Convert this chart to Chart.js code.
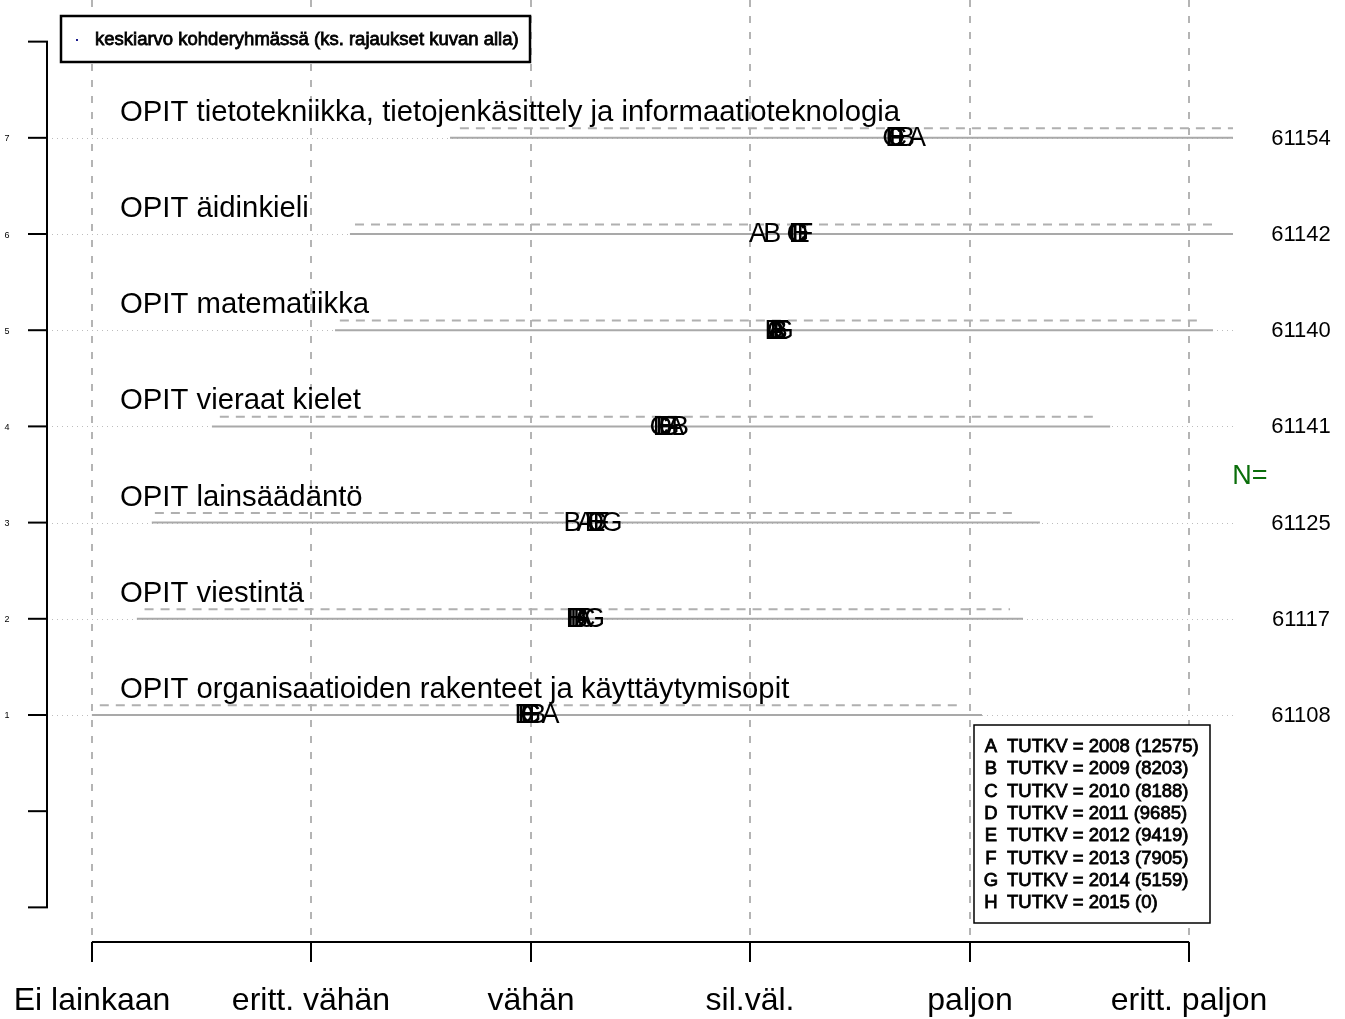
<!DOCTYPE html>
<html>
<head>
<meta charset="utf-8">
<script src="https://cdn.jsdelivr.net/npm/chart.js@4.4.1/dist/chart.umd.min.js"></script>
<style>
html,body{margin:0;padding:0;background:#fff;}
canvas{display:block;}
</style>
</head>
<body>
<canvas id="c" width="1345" height="1019"></canvas>
<script>
// ---- data (row 1 = bottom, row 7 = top) ----
const categories = [
  "OPIT organisaatioiden rakenteet ja käyttäytymisopit",
  "OPIT viestintä",
  "OPIT lainsäädäntö",
  "OPIT vieraat kielet",
  "OPIT matematiikka",
  "OPIT äidinkieli",
  "OPIT tietotekniikka, tietojenkäsittely ja informaatioteknologia"
];
const rowN = [61108, 61117, 61125, 61141, 61140, 61142, 61154];
const groupLetters = ["A","B","C","D","E","F","G"];
const groupLegend = [
  "TUTKV = 2008 (12575)",
  "TUTKV = 2009 (8203)",
  "TUTKV = 2010 (8188)",
  "TUTKV = 2011 (9685)",
  "TUTKV = 2012 (9419)",
  "TUTKV = 2013 (7905)",
  "TUTKV = 2014 (5159)",
  "TUTKV = 2015 (0)"
];
const legendKeys = ["A","B","C","D","E","F","G","H"];
// group means per row (rows 1..7)
const meanA = [3.09, 3.24, 3.25, 3.66, 4.12, 4.035, 4.76];
const meanB = [3.03, 3.22, 3.19, 3.68, 4.13, 4.10, 4.71];
const meanC = [3.00, 3.25, 3.30, 3.585, 4.12, 4.21, 4.67];
const meanD = [2.97, 3.21, 3.29, 3.60, 4.11, 4.22, 4.66];
const meanE = [2.98, 3.20, 3.30, 3.61, 4.13, 4.23, 4.66];
const meanF = [2.99, 3.23, 3.32, 3.62, 4.14, 4.25, 4.67];
const meanG = [3.00, 3.29, 3.37, 3.63, 4.15, 4.22, 4.65];
const groupMeans = [meanA, meanB, meanC, meanD, meanE, meanF, meanG];
// range lines per row
const solidLo = [1.00, 1.205, 1.273, 1.547, 2.108, 2.176, 2.632];
const solidHi = [5.056, 5.243, 5.32, 5.64, 6.109, 6.2, 6.2];
const dashLo  = [1.036, 1.24, 1.287, 1.583, 2.13, 2.199, 2.677];
const dashHi  = [4.947, 5.184, 5.216, 5.571, 6.06, 6.109, 6.2];
const xTickValues = [1, 2, 3, 4, 5, 6];
const xTickLabels = ["Ei lainkaan", "eritt. vähän", "vähän", "sil.väl.", "paljon", "eritt. paljon"];
const yTickValues = [-1, 0, 1, 2, 3, 4, 5, 6, 7, 8];
const yTickLabels = ["", "", "1", "2", "3", "4", "5", "6", "7", ""];
const topLegendText = "keskiarvo kohderyhmässä (ks. rajaukset kuvan alla)";

const FONT = '"Liberation Sans", Arial, sans-serif';
const DASH_OFF = 0.1;

const datasets = [];
for (let i = 0; i < categories.length; i++) {
  datasets.push({
    type: 'line', data: [{x: solidLo[i], y: i + 1}, {x: solidHi[i], y: i + 1}],
    borderColor: '#a9a9a9', borderWidth: 2, pointRadius: 0, fill: false
  });
  datasets.push({
    type: 'line', data: [{x: dashLo[i], y: i + 1 + DASH_OFF}, {x: dashHi[i], y: i + 1 + DASH_OFF}],
    borderColor: '#b0b0b0', borderWidth: 2, borderDash: [9, 7], pointRadius: 0, fill: false
  });
}
groupLetters.forEach((g, gi) => {
  datasets.push({
    type: 'scatter', label: g, letter: g,
    data: groupMeans[gi].map((v, i) => ({x: v, y: i + 1})),
    pointRadius: 0, showLine: false
  });
});

const deco = {
  id: 'deco',
  beforeDatasetsDraw(chart) {
    const ctx = chart.ctx, xs = chart.scales.x, ys = chart.scales.y, ca = chart.chartArea;
    ctx.save();
    // horizontal dotted lines per row
    ctx.strokeStyle = '#bdbdbd'; ctx.lineWidth = 1; ctx.setLineDash([1, 4]);
    for (let i = 0; i < categories.length; i++) {
      const y = Math.round(ys.getPixelForValue(i + 1)) + 0.5;
      ctx.beginPath(); ctx.moveTo(ca.left + 4, y); ctx.lineTo(ca.right, y); ctx.stroke();
    }
    // vertical dashed grid
    ctx.strokeStyle = '#b4b4b4'; ctx.lineWidth = 2; ctx.setLineDash([7, 9]);
    xTickValues.forEach(v => {
      const x = Math.round(xs.getPixelForValue(v));
      ctx.beginPath(); ctx.moveTo(x, 0); ctx.lineTo(x, ca.bottom - 4); ctx.stroke();
    });
    ctx.restore();
  },
  afterDatasetsDraw(chart) {
    const ctx = chart.ctx, xs = chart.scales.x, ys = chart.scales.y, ca = chart.chartArea;
    ctx.save();
    // category labels
    ctx.fillStyle = '#000'; ctx.font = '29.3px ' + FONT; ctx.textAlign = 'left'; ctx.textBaseline = 'middle';
    categories.forEach((c, i) => {
      ctx.fillText(c, 120, ys.getPixelForValue(i + 1) - 25);
    });
    // letters
    ctx.font = '27px ' + FONT; ctx.textAlign = 'center'; ctx.textBaseline = 'middle';
    chart.data.datasets.forEach((ds, di) => {
      if (!ds.letter) return;
      const meta = chart.getDatasetMeta(di);
      meta.data.forEach(pt => { ctx.fillText(ds.letter, pt.x, pt.y + 1); });
    });
    // N values
    ctx.font = '22px ' + FONT; ctx.textAlign = 'center';
    rowN.forEach((n, i) => ctx.fillText(String(n), 1301, ys.getPixelForValue(i + 1) + 1));
    ctx.fillStyle = '#0a6e0a'; ctx.font = '27px ' + FONT;
    ctx.fillText('N=', 1250, 477);
    // y axis
    ctx.fillStyle = '#000'; ctx.strokeStyle = '#000'; ctx.lineWidth = 2; ctx.setLineDash([]);
    const yTop = ys.getPixelForValue(8), yBot = ys.getPixelForValue(-1);
    ctx.beginPath(); ctx.moveTo(47, yTop); ctx.lineTo(47, yBot); ctx.stroke();
    ctx.font = '9px ' + FONT; ctx.textAlign = 'center';
    yTickValues.forEach((v, k) => {
      const y = ys.getPixelForValue(v);
      ctx.beginPath(); ctx.moveTo(28, y); ctx.lineTo(48, y); ctx.stroke();
      if (yTickLabels[k]) ctx.fillText(yTickLabels[k], 7, y + 1);
    });
    // x axis
    const xL = xs.getPixelForValue(1), xR = xs.getPixelForValue(6);
    ctx.beginPath(); ctx.moveTo(xL, ca.bottom); ctx.lineTo(xR, ca.bottom); ctx.stroke();
    ctx.font = '32px ' + FONT; ctx.textAlign = 'center'; ctx.textBaseline = 'middle';
    xTickValues.forEach((v, k) => {
      const x = Math.round(xs.getPixelForValue(v));
      ctx.beginPath(); ctx.moveTo(x, ca.bottom); ctx.lineTo(x, ca.bottom + 20); ctx.stroke();
      ctx.fillText(xTickLabels[k], x, 1001);
    });
    // top legend box
    ctx.fillStyle = '#fff'; ctx.fillRect(61, 16, 469, 46);
    ctx.strokeStyle = '#000'; ctx.lineWidth = 2.5;
    ctx.strokeRect(61, 16, 469, 46);
    ctx.fillStyle = '#1a1a8c'; ctx.fillRect(76, 39, 2, 2);
    ctx.fillStyle = '#000'; ctx.font = '18.5px ' + FONT; ctx.textAlign = 'left';
    ctx.lineWidth = 0.8; ctx.strokeStyle = '#000';
    ctx.fillText(topLegendText, 95, 40); ctx.strokeText(topLegendText, 95, 40);
    // group legend box
    ctx.fillStyle = '#fff'; ctx.fillRect(974, 725, 236, 198);
    ctx.strokeStyle = '#000'; ctx.lineWidth = 1.5; ctx.strokeRect(974, 725, 236, 198);
    ctx.fillStyle = '#000'; ctx.font = '18.5px ' + FONT; ctx.lineWidth = 0.8;
    legendKeys.forEach((k, i) => {
      const y = 747 + i * 22.3;
      ctx.textAlign = 'center';
      ctx.fillText(k, 991, y); ctx.strokeText(k, 991, y);
      ctx.textAlign = 'left';
      ctx.fillText(groupLegend[i], 1007, y); ctx.strokeText(groupLegend[i], 1007, y);
    });
    ctx.restore();
  }
};

new Chart(document.getElementById('c'), {
  type: 'scatter',
  data: { datasets },
  options: {
    responsive: false, animation: false, devicePixelRatio: 1,
    layout: { padding: { left: 48, right: 112, top: 7, bottom: 77 } },
    plugins: { legend: { display: false }, tooltip: { enabled: false } },
    scales: {
      x: { type: 'linear', min: 0.8, max: 6.2, display: false },
      y: { type: 'linear', min: -1.36, max: 8.36, display: false }
    }
  },
  plugins: [deco]
});
</script>
</body>
</html>
